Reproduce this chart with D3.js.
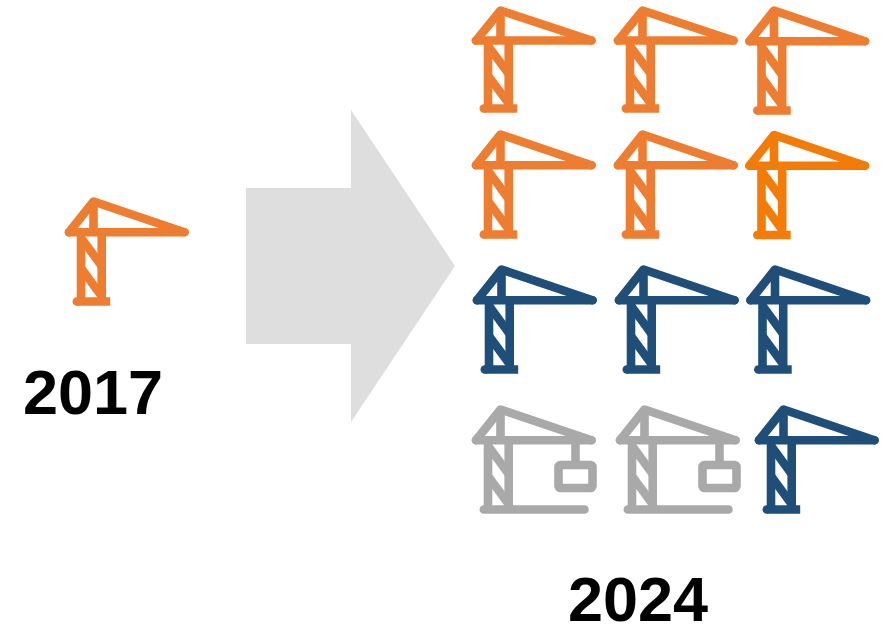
<!DOCTYPE html>
<html>
<head>
<meta charset="utf-8">
<script src="https://cdn.jsdelivr.net/npm/d3@7"></script>
<style>
html,body{margin:0;padding:0;background:#fff}
svg{display:block}
text{font-family:"Liberation Sans",Arial,sans-serif;font-weight:700;fill:#000}
</style>
</head>
<body>
<svg id="chart" width="892" height="624"></svg>
<script>
// Crane counts per year; each crane carries a status group
const years = ["2017", "2024"];
const cranes2017 = ["existing"];
const cranes2024 = [
  "existing", "existing", "existing",
  "existing", "existing", "added",
  "planned", "planned", "planned",
  "idle", "idle", "planned"
];
const groups = ["existing", "added", "planned", "idle"];
const groupColors = ["#ED7D31", "#F27C07", "#1F4E79", "#A9A9A9"];

const svg = d3.select("#chart");
const color = d3.scaleOrdinal(groups, groupColors);

// Placement of the crane grid
const slotIds = d3.range(cranes2024.length);
const slotX = d3.scaleOrdinal(slotIds, [500.5,642.5,774, 500.5,642.5,774, 501.5,643.5,775, 500.5,644.5,783.5]);
const slotY = d3.scaleOrdinal(slotIds, [10.5,10.5,10.5, 134.5,134.5,135, 269.5,269.5,269.5, 409.5,409.5,409.5]);
const slotHeight = d3.scaleOrdinal(slotIds, [0.98,0.98,1, 1,1,1, 1,1,1, 1,1,1]);
const yearX = d3.scaleOrdinal(years, [93, 638]);
const yearY = d3.scaleOrdinal(years, [414, 621]);

// Crane glyph, drawn relative to the tip of its mast
const line = d3.line();
const frame = [
  [[-24.5, 30.7], [91, 30.7]],
  [[-24.5, 30.7], [0, 0], [91, 30.7]]
];
const tower = [
  [[0, 0], [0, 30.7]],
  [[-12.5, 30.7], [-12.5, 100]],
  [[8.2, 30.7], [8.2, 100]],
  [[-12.5, 36.2], [8.2, 64.5]],
  [[-12.5, 66.5], [8.2, 94.7]]
];
const footing = [[-16.7, 100], [-16.7, 100]];
const footingBar = [[-16.7, 100], [16.7, 100]];
const idleBase = [[-16.7, 100], [84, 100]];
const idleHook = [[75, 30.7], [75, 55.5]];

function drawCrane(x, y, group, sy) {
  const idle = group === "idle";
  const g = svg.append("g")
    .attr("transform", `translate(${x},${y}) scale(1,${sy})`)
    .attr("fill", "none")
    .attr("stroke", color(group))
    .attr("stroke-width", 8.6)
    .attr("stroke-linejoin", "round");

  g.selectAll("path.frame").data(frame).join("path")
    .attr("class", "frame")
    .attr("stroke-linecap", "round")
    .attr("d", line);
  g.selectAll("path.tower").data(tower).join("path")
    .attr("class", "tower")
    .attr("stroke-linecap", "butt")
    .attr("d", line);

  if (idle) {
    g.append("path").attr("d", line(idleBase)).attr("stroke-linecap", "round");
    g.append("path").attr("d", line(idleHook));
    g.append("rect")
      .attr("x", 58).attr("y", 55.5)
      .attr("width", 34).attr("height", 23)
      .attr("rx", 2);
  } else {
    // Rounded at the left end, square at the right
    g.append("path").attr("d", line(footing)).attr("stroke-linecap", "round");
    g.append("path").attr("d", line(footingBar)).attr("stroke-linecap", "butt");
  }
}

// Block arrow between the two years
const arrow = [[246,188],[351,188],[351,110],[455,266],[351,422],[351,344],[246,344]];
svg.append("path")
  .attr("d", line(arrow) + "Z")
  .attr("fill", "#DEDEDE");

cranes2017.forEach(d => drawCrane(93.5, 201.5, d, 1));
cranes2024.forEach((d, i) => drawCrane(slotX(i), slotY(i), d, slotHeight(i)));

svg.selectAll("text.year").data(years).join("text")
  .attr("class", "year")
  .attr("x", d => yearX(d))
  .attr("y", d => yearY(d))
  .attr("text-anchor", "middle")
  .attr("font-size", 63)
  .text(d => d);
</script>
</body>
</html>
